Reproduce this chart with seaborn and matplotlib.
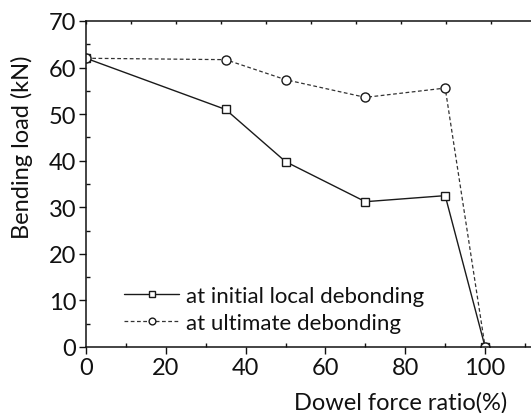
import matplotlib
matplotlib.use("Agg")
import matplotlib.pyplot as plt
import seaborn as sns
import pandas as pd
from matplotlib.ticker import MultipleLocator

ratio = [0, 35, 50, 70, 90, 100]
initial_local = [62.0, 51.0, 39.8, 31.2, 32.5, 0.0]
ultimate = [62.0, 61.7, 57.4, 53.6, 55.6, 0.0]
labels = ["at initial local debonding", "at ultimate debonding"]

sns.set_theme(style="ticks")
plt.rcParams['font.family'] = ['Lato', 'DejaVu Sans']

fig = plt.figure(figsize=(5.31, 4.14), dpi=100)
ax = fig.add_axes([86/531, 1-348/414, 1-86/531, (348-22)/414])

df1 = pd.DataFrame({"x": ratio, "y": initial_local})
df2 = pd.DataFrame({"x": ratio, "y": ultimate})

sns.lineplot(data=df1, x="x", y="y", ax=ax, color="#1a1a1a", linewidth=1.0,
             marker="s", markersize=6, markerfacecolor="white",
             markeredgecolor="#1a1a1a", markeredgewidth=1.0, label=labels[0])
sns.lineplot(data=df2, x="x", y="y", ax=ax, color="#333333", linewidth=0.9,
             linestyle=(0, (3, 2)), marker="o", markersize=6.5,
             markerfacecolor="white", markeredgecolor="#1a1a1a",
             markeredgewidth=1.0, label=labels[1])

ax.set_xlim(0, 111.5)
ax.set_ylim(0, 70)
ax.xaxis.set_major_locator(MultipleLocator(20))
ax.xaxis.set_minor_locator(MultipleLocator(10))
ax.yaxis.set_major_locator(MultipleLocator(10))
ax.yaxis.set_minor_locator(MultipleLocator(5))
ax.tick_params(which="major", direction="out", length=5, width=1, colors="#111",
               labelsize=17, pad=2)
ax.tick_params(which="minor", direction="in", length=3, width=1, colors="#111")
for s in ["left", "bottom", "top"]:
    ax.spines[s].set_linewidth(1.1)
    ax.spines[s].set_color("#111")
ax.spines["right"].set_visible(False)

ax.set_xlabel("Dowel force ratio(%)", fontsize=17, color="#111")
ax.xaxis.label.set_ha("right")
ax.xaxis.set_label_coords((507-86)/445, -0.135)
ax.set_ylabel("Bending load (kN)", fontsize=17, color="#111")
ax.yaxis.set_label_coords((33-86)/445, 0.617)

# small ticks along the top frame
top = ax.twiny()
top.set_xlim(0, 445/45*10)
top.xaxis.set_major_locator(MultipleLocator(10))
top.tick_params(axis="x", which="major", direction="in", length=2.5, width=1,
                labeltop=False, colors="#111")
for s in top.spines.values():
    s.set_visible(False)

leg = ax.legend(loc="upper left", bbox_to_anchor=(0.085, 0.187), frameon=False,
                fontsize=16, handlelength=2.5, handletextpad=0.3,
                labelspacing=0.3, borderaxespad=0, borderpad=0, markerscale=0.75)
for t in leg.get_texts():
    t.set_color("#111")

fig.savefig("out.png", dpi=100)
